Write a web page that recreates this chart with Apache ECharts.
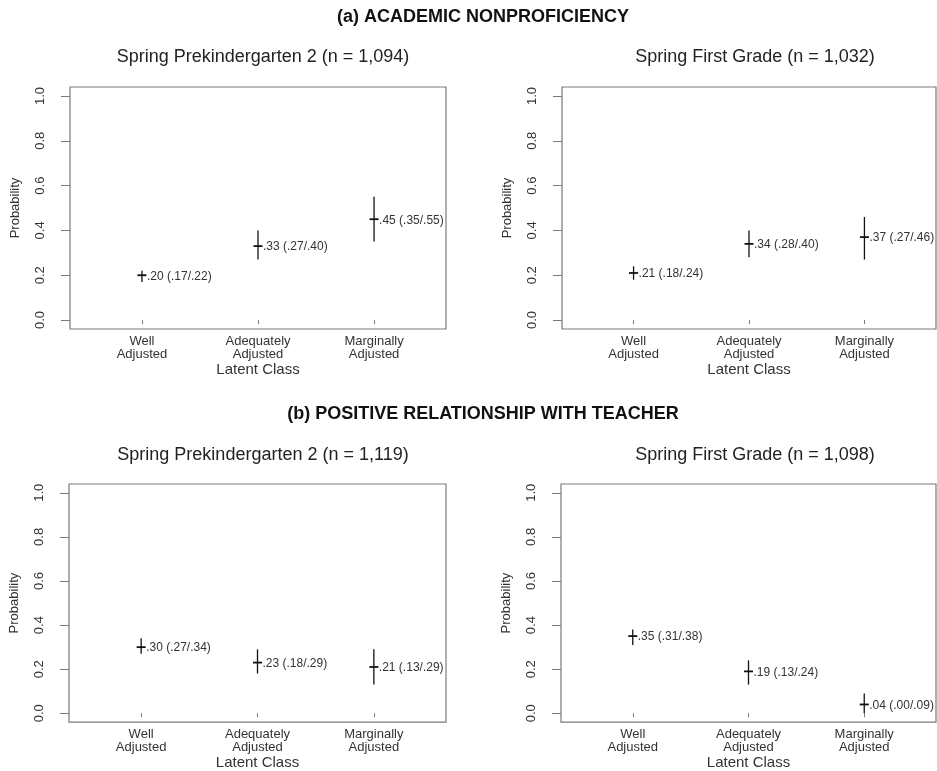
<!DOCTYPE html>
<html>
<head>
<meta charset="utf-8">
<script src="https://cdn.jsdelivr.net/npm/echarts@6/dist/echarts.min.js"></script>
<style>
  html, body { margin: 0; padding: 0; background: #fff; }
  #chart { width: 937px; height: 771px; }
</style>
</head>
<body>
<div id="chart"></div>
<script>
// latent classes (x positions 1..3)
const classes = ["Well\nAdjusted", "Adequately\nAdjusted", "Marginally\nAdjusted"];
const yTicks = [0, 0.2, 0.4, 0.6, 0.8, 1.0];

// (a) academic nonproficiency
const aPreKEst = [0.20, 0.33, 0.45];
const aPreKLow = [0.17, 0.27, 0.35];
const aPreKHigh = [0.22, 0.40, 0.55];
const aFirstEst = [0.21, 0.34, 0.37];
const aFirstLow = [0.18, 0.28, 0.27];
const aFirstHigh = [0.24, 0.40, 0.46];

// (b) positive relationship with teacher
const bPreKEst = [0.30, 0.23, 0.21];
const bPreKLow = [0.27, 0.18, 0.13];
const bPreKHigh = [0.34, 0.29, 0.29];
const bFirstEst = [0.35, 0.19, 0.04];
const bFirstLow = [0.31, 0.13, 0.00];
const bFirstHigh = [0.38, 0.24, 0.09];

const panelTitles = [
  "Spring Prekindergarten 2 (n = 1,094)",
  "Spring First Grade (n = 1,032)",
  "Spring Prekindergarten 2 (n = 1,119)",
  "Spring First Grade (n = 1,098)"
];
const sectionTitles = ["(a) ACADEMIC NONPROFICIENCY", "(b) POSITIVE RELATIONSHIP WITH TEACHER"];

const panels = [
  { est: aPreKEst, low: aPreKLow, high: aPreKHigh },
  { est: aFirstEst, low: aFirstLow, high: aFirstHigh },
  { est: bPreKEst, low: bPreKLow, high: bPreKHigh },
  { est: bFirstEst, low: bFirstLow, high: bFirstHigh }
];

const grids = [
  { left: 70, top: 87, width: 376, height: 242 },
  { left: 562, top: 87, width: 374, height: 242 },
  { left: 69, top: 484, width: 377, height: 243 },
  { left: 561, top: 484, width: 375, height: 243 }
];

const frameColor = "#7a7a7a";
const textColor = "#333";
const narrow = "'Liberation Sans Narrow', 'Liberation Sans', Arial, sans-serif";
const sans = "'Liberation Sans', Arial, sans-serif";

const fmt = (v) => v.toFixed(2).replace(/^0/, "");

const chart = echarts.init(document.getElementById("chart"), null, { renderer: "canvas" });

const titles = [
  { text: sectionTitles[0], left: 483, top: 8 },
  { text: sectionTitles[1], left: 483, top: 405 }
].map((t) => ({
  text: t.text, left: t.left, top: t.top, textAlign: "center", padding: 0,
  textStyle: { fontFamily: sans, fontSize: 18, fontWeight: "bold", color: "#111" }
}));
[[263, 48], [755, 48], [263, 446], [755, 446]].forEach((p, i) => {
  titles.push({
    text: panelTitles[i], left: p[0], top: p[1], textAlign: "center", padding: 0,
    textStyle: { fontFamily: sans, fontSize: 18, fontWeight: "normal", color: "#222" }
  });
});

const option = {
  animation: false,
  backgroundColor: "#fff",
  title: titles,
  grid: grids.map((g) => Object.assign({ show: true, borderColor: frameColor, borderWidth: 1.2, containLabel: false }, g)),
  xAxis: grids.map((g, i) => ({
    type: "value",
    gridIndex: i,
    min: 0.38,
    max: 3.62,
    splitLine: { show: false },
    axisLine: { show: false },
    axisTick: { show: true, length: 4, customValues: [1, 2, 3], lineStyle: { color: frameColor } },
    axisLabel: {
      customValues: [1, 2, 3],
      formatter: (v) => classes[Math.round(v) - 1] || "",
      margin: 6,
      fontFamily: sans, fontSize: 13, lineHeight: 13, color: textColor
    },
    name: "Latent Class",
    nameLocation: "middle",
    nameGap: 31,
    nameTextStyle: { fontFamily: sans, fontSize: 15, color: textColor }
  })),
  yAxis: grids.map((g, i) => ({
    type: "value",
    gridIndex: i,
    min: -0.04,
    max: 1.04,
    splitLine: { show: false },
    axisLine: { show: false },
    axisTick: { show: true, length: 9, customValues: yTicks, lineStyle: { color: frameColor } },
    axisLabel: {
      customValues: yTicks,
      formatter: (v) => v.toFixed(1),
      rotate: 90,
      margin: 23,
      fontFamily: narrow, fontSize: 13, color: textColor
    },
    name: "Probability",
    nameLocation: "middle",
    nameRotate: 90,
    nameGap: 48,
    nameTextStyle: { fontFamily: narrow, fontSize: 13, color: textColor }
  })),
  series: panels.map((p, i) => ({
    type: "custom",
    xAxisIndex: i,
    yAxisIndex: i,
    encode: { x: 0, y: [1, 2, 3] },
    data: p.est.map((e, k) => [k + 1, e, p.low[k], p.high[k]]),
    renderItem: (params, api) => {
      const x = api.value(0);
      const est = api.coord([x, api.value(1)]);
      const lo = api.coord([x, api.value(2)]);
      const hi = api.coord([x, api.value(3)]);
      const label = fmt(api.value(1)) + " (" + fmt(api.value(2)) + "/" + fmt(api.value(3)) + ")";
      return {
        type: "group",
        children: [
          { type: "line", shape: { x1: lo[0], y1: lo[1], x2: hi[0], y2: hi[1] },
            style: { stroke: "#111", lineWidth: 1.3 } },
          { type: "line", shape: { x1: est[0] - 4.5, y1: est[1], x2: est[0] + 4.5, y2: est[1] },
            style: { stroke: "#111", lineWidth: 1.8 } },
          { type: "text", x: est[0] + 5, y: est[1] + 1,
            style: { text: label, fill: "#333", font: "12px " + sans, align: "left", verticalAlign: "middle" } }
        ]
      };
    }
  }))
};

chart.setOption(option);
</script>
</body>
</html>
